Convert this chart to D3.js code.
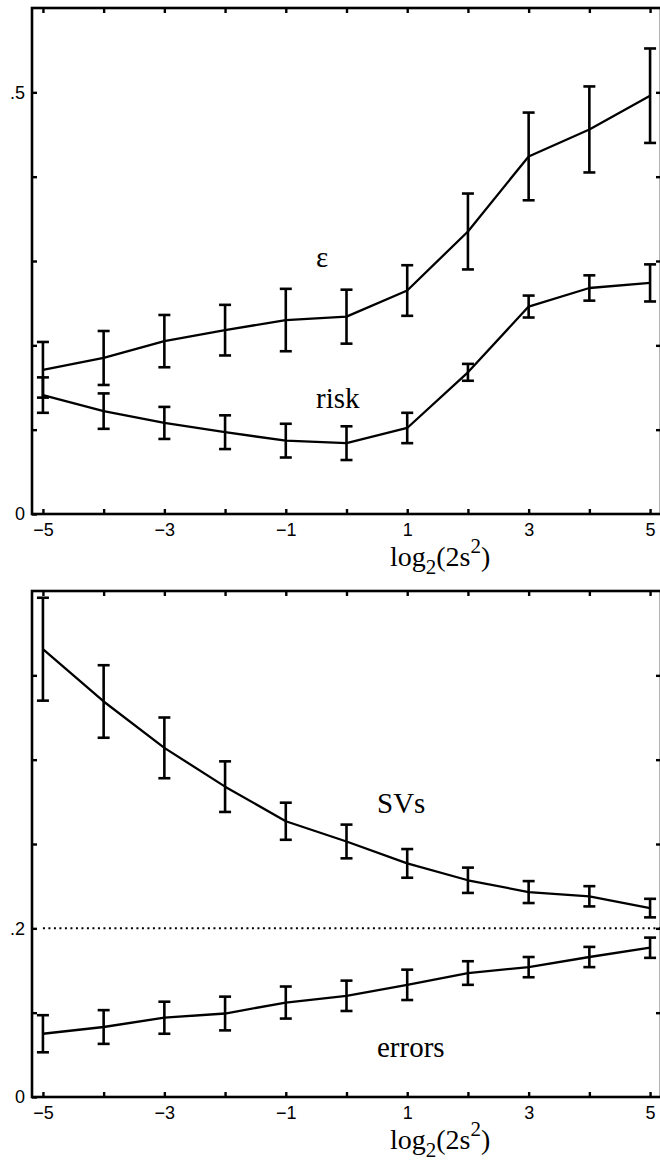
<!DOCTYPE html>
<html>
<head>
<meta charset="utf-8">
<script src="https://cdn.jsdelivr.net/npm/d3@7"></script>
<style>
  body { margin: 0; background: #fff; }
  svg { display: block; }
</style>
</head>
<body>
<svg id="chart"></svg>
<script>
  // x positions: log2(2 s^2)
  const xs = [-5, -4, -3, -2, -1, 0, 1, 2, 3, 4, 5];
  const xTickLabels = [-5, -3, -1, 1, 3, 5];

  // upper panel
  const epsMean  = [0.171, 0.185, 0.205, 0.218, 0.230, 0.234, 0.265, 0.335, 0.424, 0.456, 0.496];
  const epsErr   = [0.033, 0.032, 0.031, 0.030, 0.037, 0.032, 0.030, 0.045, 0.052, 0.051, 0.056];
  const riskMean = [0.141, 0.122, 0.108, 0.097, 0.087, 0.084, 0.102, 0.168, 0.246, 0.268, 0.274];
  const riskErr  = [0.021, 0.021, 0.019, 0.020, 0.020, 0.020, 0.018, 0.010, 0.013, 0.015, 0.022];

  // lower panel
  const svMean   = [0.531, 0.469, 0.414, 0.368, 0.327, 0.303, 0.277, 0.257, 0.243, 0.238, 0.224];
  const svErr    = [0.061, 0.043, 0.036, 0.030, 0.022, 0.020, 0.017, 0.015, 0.013, 0.012, 0.011];
  const errMean  = [0.075, 0.083, 0.094, 0.099, 0.112, 0.120, 0.133, 0.147, 0.154, 0.166, 0.177];
  const errErr   = [0.022, 0.020, 0.019, 0.020, 0.019, 0.018, 0.018, 0.014, 0.012, 0.012, 0.012];

  const yTicks = [0, 0.1, 0.2, 0.3, 0.4, 0.5];
  const nu = 0.2; // dotted reference line in lower panel

  const W = 660, H = 1163;
  const svg = d3.select("#chart").attr("width", W).attr("height", H);

  const TICK = 5;
  const SANS = "'Liberation Sans', Arial, Helvetica, sans-serif";
  const SERIF = "'Liberation Serif', 'Times New Roman', serif";

  const x = d3.scaleLinear().domain([-5.18, 5.18]).range([32, 661]);

  const panel = (top, bottom, series, yLabelled, labels, refLine) => {
    const y = d3.scaleLinear().domain([0, 0.6]).range([bottom, top]);
    const g = svg.append("g");

    // ticks, all pointing inward
    g.append("g")
      .attr("transform", "translate(0," + bottom + ")")
      .call(d3.axisBottom(x).tickValues(xs).tickSize(-TICK).tickPadding(9)
        .tickFormat(d => xTickLabels.includes(d) ? (d < 0 ? "\u2212" + (-d) : d) : ""))
      .attr("font-size", 18).attr("font-family", SANS);
    g.append("g")
      .attr("transform", "translate(0," + top + ")")
      .call(d3.axisTop(x).tickValues(xs).tickSize(-TICK).tickFormat(""));
    g.append("g")
      .attr("transform", "translate(" + x.range()[0] + ",0)")
      .call(d3.axisLeft(y).tickValues(yTicks).tickSize(-TICK).tickPadding(7)
        .tickFormat(d => yLabelled.includes(d) ? (d === 0 ? "0" : d3.format(".1f")(d).replace(/^0/, "")) : ""))
      .attr("font-size", 18).attr("font-family", SANS);
    g.append("g")
      .attr("transform", "translate(" + x.range()[1] + ",0)")
      .call(d3.axisRight(y).tickValues(yTicks.slice(1)).tickSize(-TICK).tickFormat(""));

    g.selectAll(".domain").remove();
    g.selectAll(".tick line").attr("stroke", "#000").attr("stroke-width", 2.4);
    g.selectAll(".tick text").attr("fill", "#000");

    g.append("rect")
      .attr("x", x.range()[0]).attr("y", top)
      .attr("width", x.range()[1] - x.range()[0]).attr("height", bottom - top)
      .attr("fill", "none").attr("stroke", "#000").attr("stroke-width", 2.6);

    if (refLine !== undefined) {
      g.append("line")
        .attr("x1", x(-5)).attr("x2", x.range()[1])
        .attr("y1", y(refLine)).attr("y2", y(refLine))
        .attr("stroke", "#000").attr("stroke-width", 2)
        .attr("stroke-dasharray", "2,3.5");
    }

    const line = d3.line().x((d, i) => x(xs[i])).y(d => y(d));

    series.forEach(s => {
      g.append("path")
        .datum(s.mean)
        .attr("d", line)
        .attr("fill", "none").attr("stroke", "#000")
        .attr("stroke-width", 2.3).attr("stroke-linejoin", "round");

      const bars = g.append("g").selectAll("g")
        .data(xs.map((v, i) => ({ x: v, m: s.mean[i], e: s.err[i] })))
        .join("g")
        .attr("stroke", "#000").attr("stroke-width", 2.6);
      bars.append("line")
        .attr("x1", d => x(d.x)).attr("x2", d => x(d.x))
        .attr("y1", d => y(d.m - d.e)).attr("y2", d => y(d.m + d.e));
      bars.append("line")
        .attr("x1", d => x(d.x) - 6).attr("x2", d => x(d.x) + 6)
        .attr("y1", d => y(d.m + d.e)).attr("y2", d => y(d.m + d.e));
      bars.append("line")
        .attr("x1", d => x(d.x) - 6).attr("x2", d => x(d.x) + 6)
        .attr("y1", d => y(d.m - d.e)).attr("y2", d => y(d.m - d.e));
    });

    labels.forEach(l => {
      g.append("text")
        .attr("x", l.x).attr("y", l.y)
        .style("font-family", SERIF).style("font-size", "29px")
        .text(l.t);
    });

    // x axis label: log_2(2s^2)
    const xl = g.append("text")
      .attr("x", 390).attr("y", bottom + 52)
      .style("font-family", SERIF).style("font-size", "28px");
    xl.append("tspan").text("log");
    xl.append("tspan").attr("dy", 8).style("font-size", "21px").text("2");
    xl.append("tspan").attr("dy", -8).text("(2s");
    xl.append("tspan").attr("dy", -13).style("font-size", "21px").text("2");
    xl.append("tspan").attr("dy", 13).text(")");
  };

  panel(8, 514,
    [{ mean: epsMean, err: epsErr }, { mean: riskMean, err: riskErr }],
    [0, 0.5],
    [{ t: "\u03b5", x: 316, y: 267 }, { t: "risk", x: 316, y: 408 }]);

  panel(591, 1097,
    [{ mean: svMean, err: svErr }, { mean: errMean, err: errErr }],
    [0, 0.2],
    [{ t: "SVs", x: 377, y: 813 }, { t: "errors", x: 377, y: 1057 }],
    nu);
</script>
</body>
</html>
